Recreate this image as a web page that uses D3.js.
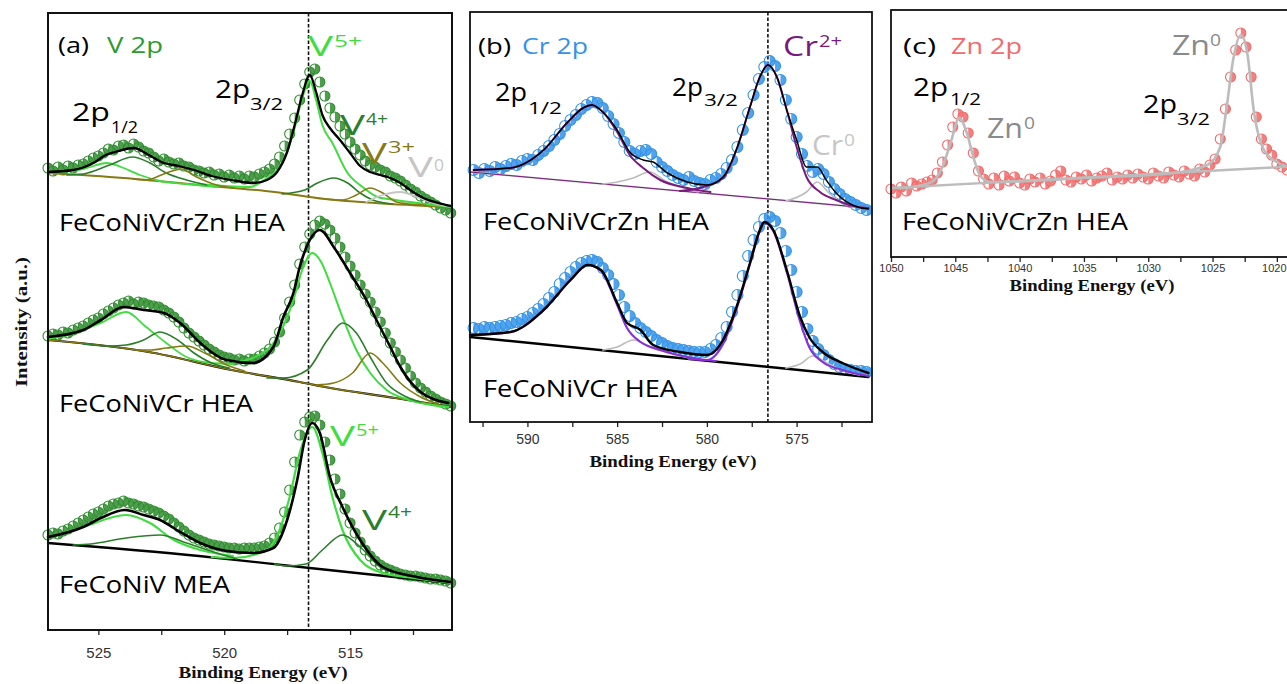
<!DOCTYPE html>
<html>
<head>
<meta charset="utf-8">
<script src="https://cdn.jsdelivr.net/npm/d3@7"></script>
<style>
  body { margin: 0; background: #fff; }
  svg { display: block; }
</style>
</head>
<body>
<svg id="fig" width="1287" height="684"></svg>
<script>
// ---------------- data (intensity in arbitrary units) ----------------

// V 2p, measured points from 527 eV down to 511 eV every 0.2 eV
const vStart = 527, vStep = 0.2;
const vZnHEA = [462,459,463,460,464,462,465,466,469,472, 474,477,481,480,484,485,482,486,483,479,
  477,473,469,471,468,466,467,464,463,460, 459,457,458,455,456,453,455,452,454,451,
  454,453,456,458,461,466,473,484,496,512, 530,546,558,561,548,534,522,513,504,496,
  488,481,475,469,465,463,460,458,454,452, 449,445,441,438,434,431,428,425,422,420, 417];
const vCrHEA = [294,296,295,298,297,300,302,304,307,310, 312,316,319,322,325,327,329,326,328,327,
  325,324,323,320,317,313,308,302,297,293, 289,285,281,278,275,273,272,270,271,269,
  271,271,274,277,281,288,298,312,328,345, 366,383,396,405,409,406,400,392,383,373,
  364,355,345,336,328,318,308,297,287,278, 270,262,254,247,242,238,234,231,228,226, 224];
const vMEA = [95,97,96,99,101,104,107,110,113,116, 118,121,124,126,127,129,127,126,124,123,
  121,119,117,114,111,107,103,99,95,92, 90,88,86,85,84,83,82,82,81,82,
  82,82,83,84,87,92,102,118,140,168, 195,208,213,214,205,188,170,151,136,121,
  107,97,88,80,74,69,65,62,60,58, 56,55,54,54,53,52,51,51,50,49, 47];

// V 2p fits, [binding energy, intensity]
const vZnBg   = [[527,457],[524,452],[521,445],[518,438],[516,431],[514,427],[511,423]];
const vZnFit  = [[527,458],[526,460],[525.2,467],[524.7,475],[524.2,479],[523.6,482],[523,475],[522.4,467],[521.8,464],[521.2,460],[520.5,454],[519.5,449],[518.8,447],[518.3,450],[517.9,458],[517.5,478],[517.2,505],[516.9,535],[516.6,555],[516.35,538],[516.1,515],[515.8,502],[515.4,490],[515,477],[514.6,464],[514.2,458],[513.8,455],[513.4,452],[513,447],[512.5,438],[512,431],[511.5,427],[511,424]];
const vZn5a   = [[521,446],[519,443],[518.3,452],[517.9,460],[517.5,478],[517.2,502],[516.9,532],[516.6,549],[516.35,530],[516.1,505],[515.7,487],[515.1,457],[514.5,443],[513.9,433],[513.2,430],[512,426],[511,423]];
const vZn5b   = [[526.9,457],[525.6,461],[524.65,467],[524.1,463],[523.35,455],[522.55,449],[521.5,446],[520.3,443]];
const vZn4a   = [[517.7,436],[516.8,440],[516.3,447],[515.65,452],[515.1,447],[514.6,437],[514.1,430],[513.3,426]];
const vZn4b   = [[526.25,455],[525.6,456],[524.55,465],[523.65,473],[522.95,467],[522.3,457],[521.5,450],[520.7,445]];
const vZn3a   = [[516,431],[515.3,430],[514.75,435],[514.2,442],[513.7,437],[513.15,428],[512.6,426],[512,425]];
const vZn3b   = [[523.6,451],[523.1,450],[522.3,457],[521.7,461],[521.1,453],[520.3,445],[519.6,442]];
const vZn0    = [[514.35,428],[513.7,435],[513.0,438],[512.35,433],[511.7,427],[511.2,424]];

const vCrBg   = [[527,290],[523,278],[519.7,260],[517,248],[516,243],[513.2,232],[511,223]];
const vCrFit  = [[527,293],[525.6,300],[524.9,310],[524,323],[523.2,320],[522.4,317],[521.75,307],[520.95,287],[519.9,270],[518.85,267],[518.05,283],[517.65,313],[517.25,337],[517,363],[516.6,390],[516.2,400],[515.65,383],[515,357],[514.35,330],[513.95,310],[513.4,283],[513,263],[512.2,238],[511.1,227]];
const vCr5a   = [[519.65,267],[518.3,280],[517.65,304],[517.25,330],[516.9,360],[516.5,377],[516.15,368],[515.8,347],[515.3,313],[514.75,280],[514.2,257],[513.55,240],[512.65,230],[511.1,223]];
const vCr5b   = [[527,291],[526.2,295],[524.9,307],[523.9,318],[523.1,303],[522.3,287],[521.5,273],[520.5,267],[519.65,266]];
const vCr4a   = [[518.3,252],[517.65,252],[516.7,260],[515.9,290],[515.3,307],[514.75,297],[514.2,273],[513.55,247],[512.75,233],[512.2,228]];
const vCr4b   = [[525.6,286],[524.6,284],[523.9,285],[523.2,290],[522.55,298],[521.85,290],[521.2,277],[520.5,267],[519.8,262]];
const vCr3a   = [[516.35,245],[515.65,247],[514.9,257],[514.2,277],[513.7,267],[513,247],[512.2,233],[511.5,226]];
const vCr3b   = [[523.5,280],[522.9,280],[522.3,282],[521.5,284],[520.7,276],[519.9,265],[519.2,259]];

const vMeaBg  = [[527,87],[521,74],[516.6,62],[511,47]];
const vMeaFit = [[527,93],[525.6,103],[524.9,112],[523.95,120],[523.2,115],[522.55,110],[521.75,98],[520.95,87],[519.9,79],[518.85,77],[518.05,82],[517.5,110],[517.1,150],[516.8,190],[516.5,207],[516.2,197],[515.8,153],[515.3,123],[514.6,90],[513.7,63],[512.35,53],[511,48]];
const vMea5a  = [[520.5,73],[519.65,72],[518.3,80],[517.8,100],[517.4,133],[517,177],[516.7,198],[516.5,203],[516.1,177],[515.7,133],[515.3,100],[514.6,70],[513.7,57],[512.5,52],[511,47]];
const vMea5b  = [[527,93],[525.6,103],[523.9,115],[522.95,107],[522,90],[520.95,80],[519.65,74]];
const vMea4a  = [[518,66],[517.5,64],[516.75,66],[516.1,80],[515.3,95],[514.6,83],[513.8,63],[513,56],[512.2,52]];
const vMea4b  = [[526,85],[525.3,86],[523.9,92],[522.55,95],[521.5,87],[520.3,77],[519.5,71]];

// Cr 2p, measured points from 593 eV down to 571.1 eV every 0.3 eV
const crStart = 593, crStep = 0.3;
const crZnHEA = [252,249,253,251,255,253,256,258,257,261, 263,262,267,271,276,282,288,296,302,307,
  313,317,320,319,314,306,298,289,280,271, 268,271,272,268,260,255,251,247,244,242,
  245,241,239,238,242,244,248,254,262,275, 292,309,327,343,355,361,356,342,322,303,
  285,268,256,250,253,248,240,233,228,223, 220,217,214,212];
const crCrHEA = [94,93,95,94,95,96,97,99,100,103, 105,109,113,118,124,130,138,144,150,155,
  159,161,162,160,154,147,138,127,115,106, 99,94,90,86,82,79,76,74,73,72,
  71,70,70,70,73,77,84,95,110,127, 146,166,182,195,203,205,201,189,171,152,
  130,110,93,81,73,67,62,58,55,53, 52,51,51,50];

const crZnBg   = [[593.2,250],[571,214]];
const crZnFit  = [[593,252],[590.95,254],[589.1,272],[587.8,299],[586.9,314],[586.4,317],[585.8,310],[585,292],[584.3,270],[583.55,262],[583,260],[582.2,249],[581.1,240],[580,237],[579.1,245],[578.3,275],[577.6,315],[577.05,345],[576.6,357],[576.1,345],[575.55,312],[575,282],[574.45,255],[573.85,255],[573.35,242],[572.8,229],[571.6,215],[571,213]];
const crZn2a   = [[581.5,231],[580.4,234],[579.1,244],[578.3,275],[577.6,315],[577.05,345],[576.6,357],[576.1,345],[575.55,312],[575,275],[574.45,245],[573.7,230],[572.8,222],[571.6,215],[571,214]];
const crZn2b   = [[593,252],[590.95,254],[589.1,272],[587.8,299],[586.9,314],[586.4,317],[585.8,310],[585,290],[584.3,267],[583.55,254],[582.6,242],[581.1,234],[579.8,230]];
const crZn0a   = [[575.6,221],[574.45,230],[573.85,240],[573.2,229],[572.45,219],[571.6,215]];
const crZn0b   = [[585.8,238],[585,240],[584.1,244],[583.2,250],[582.2,240],[581.3,234],[580.5,230]];

const crCrBg   = [[593.2,85],[571,45]];
const crCrFit  = [[593.2,87],[590.95,90],[589.1,112],[587.6,142],[586.65,157],[585.9,152],[585,119],[584.45,99],[583.7,92],[583,77],[581.5,70],[580,67],[579.1,82],[578.35,115],[577.6,159],[577.05,192],[576.8,200],[576.3,192],[575.55,152],[574.8,105],[574.3,85],[573.55,70],[572.45,59],[571,49]];
const crCr2a   = [[581,63],[580,62],[579.1,78],[578.35,113],[577.6,158],[577.05,191],[576.8,199],[576.3,191],[575.55,150],[574.8,100],[574.3,75],[573.55,60],[572.45,52],[571,46]];
const crCr2b   = [[593.2,87],[590.95,90],[589.1,112],[587.6,142],[586.65,157],[585.9,151],[585,117],[584.45,94],[583.7,80],[582.6,72],[580.8,64],[579.5,61]];
const crCr0a   = [[575.6,54],[574.8,58],[574.1,66],[573.2,58],[572.2,50],[571.5,47]];
const crCr0b   = [[585.8,72],[585,75],[584.1,82],[583,74],[581.9,68],[581,64]];

// Zn 2p, measured points from 1050 eV down to 1018.4 eV every 0.4 eV
const znStart = 1050, znStep = 0.4;
const znZnHEA = [68,64,70,66,74,71,73,75,77,84,95,112,130,143,140,124,104,86,78,73,
  79,72,81,76,80,74,72,78,75,79,73,76,82,86,77,75,80,78,82,76,
  79,81,84,77,80,78,82,79,83,80,78,84,81,79,85,82,80,86,83,81,
  88,85,92,98,118,148,180,207,224,210,180,140,118,108,102,93,90,87,91,88];
const znBg  = [[1050,69],[1018.2,91]];
const znFit = [[1050,69],[1049.3,69],[1047,74],[1046,90],[1045.3,117],[1044.7,139],[1044.1,124],[1043.6,100],[1043.1,82],[1042.3,75],[1035,79],[1028,84],[1025.4,92],[1024.4,110],[1023.9,150],[1023.4,197],[1022.8,222],[1022.3,204],[1021.8,147],[1021,107],[1020,95],[1019.2,91],[1018.2,91]];

// tick values
const vTicks = [525, 520, 515], vMinor = [522.5, 517.5, 512.5];
const crTicks = [590, 585, 580, 575], crMinor = [592.5, 587.5, 582.5, 577.5, 572.5];
const znTicks = [1050, 1045, 1040, 1035, 1030, 1025, 1020], znMinor = [1047.5, 1042.5, 1037.5, 1032.5, 1027.5, 1022.5];

// ---------------- drawing ----------------
const svg = d3.select("#fig");
const SANS = "'Open Sans', 'DejaVu Sans', sans-serif";
const SERIF = "'Liberation Serif', 'Times New Roman', serif";

const C = {
  vDots: "#2f8d2f", bright: "#3fdd3f", dark: "#2b7f2b", olive: "#877a14", lgray: "#c6c6c6",
  blue: "#3393e8", purple: "#7a1a7e", violet: "#8a30d8", salmon: "#f26a6a", zgray: "#bcbcbc"
};

function energies(start, step, n) {
  return d3.range(n).map(i => start - i * step);
}

function makePanel(box, xDomain, yMax, ticks, minor, tickFont, pad) {
  const x = d3.scaleLinear().domain(xDomain).range([box.x0, box.x1]);
  const y = d3.scaleLinear().domain([0, yMax]).range([box.y1, box.y0]);
  const g = svg.append("g");
  const ax = g.append("g").attr("transform", `translate(0,${box.y1})`)
    .call(d3.axisBottom(x).tickValues(ticks).tickSize(5).tickSizeOuter(0).tickPadding(pad).tickFormat(d3.format("d")));
  ax.select(".domain").remove();
  ax.selectAll("line").attr("stroke", "#222").attr("stroke-width", 1.3);
  ax.selectAll("text").attr("font-family", "'Liberation Sans', Arial, sans-serif")
    .attr("font-size", tickFont).attr("fill", "#333");
  const mx = g.append("g").attr("transform", `translate(0,${box.y1})`)
    .call(d3.axisBottom(x).tickValues(minor).tickSize(5).tickSizeOuter(0).tickFormat(""));
  mx.select(".domain").remove();
  mx.selectAll("line").attr("stroke", "#222").attr("stroke-width", 1.3);
  return { x, y, g, box, ax };
}

function frame(p, w) {
  p.g.append("rect").attr("x", p.box.x0).attr("y", p.box.y0)
    .attr("width", p.box.x1 - p.box.x0).attr("height", p.box.y1 - p.box.y0)
    .attr("fill", "none").attr("stroke", "#111").attr("stroke-width", w);
}

function dots(p, counts, start, step, stroke, fill, r) {
  const e = energies(start, step, counts.length);
  const pts = counts.map((v, i) => [p.x(e[i]), p.y(v)]);
  const gg = p.g.append("g");
  gg.selectAll("path.half").data(pts).join("path")
    .attr("d", d => `M${d[0]},${d[1] - r}A${r},${r} 0 0 1 ${d[0]},${d[1] + r}Z`)
    .attr("fill", fill).attr("opacity", 0.85);
  gg.selectAll("circle").data(pts).join("circle")
    .attr("cx", d => d[0]).attr("cy", d => d[1]).attr("r", r)
    .attr("fill", "none").attr("stroke", stroke).attr("stroke-width", 1.1);
}

function curve(p, data, color, width) {
  const line = d3.line().x(d => p.x(d[0])).y(d => p.y(d[1])).curve(d3.curveMonotoneX);
  p.g.append("path").datum(data).attr("d", line)
    .attr("fill", "none").attr("stroke", color).attr("stroke-width", width)
    .attr("stroke-linejoin", "round").attr("stroke-linecap", "round");
}

function dashed(p, ev) {
  p.g.append("line").attr("x1", p.x(ev)).attr("x2", p.x(ev))
    .attr("y1", p.box.y0).attr("y2", p.box.y1)
    .attr("stroke", "#111").attr("stroke-width", 1.6).attr("stroke-dasharray", "3.5,2");
}

function label(x, y, str, size, color, w) {
  const t = svg.append("text").attr("x", x).attr("y", y).text(str)
    .attr("font-family", SANS).attr("font-size", size).attr("fill", color || "#000");
  if (w) t.attr("textLength", w).attr("lengthAdjust", "spacingAndGlyphs");
  return t;
}

function title(cx, y, str, w) {
  svg.append("text").attr("x", cx).attr("y", y).text(str)
    .attr("text-anchor", "middle").attr("font-family", SERIF).attr("font-weight", "bold")
    .attr("font-size", 16).attr("fill", "#111")
    .attr("textLength", w).attr("lengthAdjust", "spacingAndGlyphs");
}

// ---- panel (a): V 2p ----
const pa = makePanel({ x0: 48, x1: 452, y0: 13, y1: 630 }, [527, 510.95], 617, vTicks, vMinor, 15, 12);
dashed(pa, 516.65);

dots(pa, vZnHEA, vStart, vStep, C.vDots, C.vDots, 5);
curve(pa, vZnBg, C.olive, 2);
curve(pa, vZn5b, C.bright, 1.8); curve(pa, vZn5a, C.bright, 2);
curve(pa, vZn4b, C.dark, 1.6); curve(pa, vZn4a, C.dark, 1.6);
curve(pa, vZn3b, C.olive, 1.6); curve(pa, vZn3a, C.olive, 1.6);
curve(pa, vZn0, C.lgray, 1.8);
curve(pa, vZnFit, "#000", 2.3);

dots(pa, vCrHEA, vStart, vStep, C.vDots, C.vDots, 5);
curve(pa, vCrBg, "#111", 2.2); curve(pa, vCrBg, C.olive, 1.4);
curve(pa, vCr5b, C.bright, 1.8); curve(pa, vCr5a, C.bright, 2);
curve(pa, vCr4b, C.dark, 1.6); curve(pa, vCr4a, C.dark, 1.6);
curve(pa, vCr3b, C.olive, 1.6); curve(pa, vCr3a, C.olive, 1.6);
curve(pa, vCrFit, "#000", 2.6);

dots(pa, vMEA, vStart, vStep, C.vDots, C.vDots, 5);
curve(pa, vMeaBg, "#000", 2.4);
curve(pa, vMea5b, C.bright, 2); curve(pa, vMea5a, C.bright, 2.2);
curve(pa, vMea4b, C.dark, 1.6); curve(pa, vMea4a, C.dark, 1.6);
curve(pa, vMeaFit, "#000", 2.6);
frame(pa, 2);

// ---- panel (b): Cr 2p ----
const pb = makePanel({ x0: 470, x1: 872, y0: 12, y1: 422 }, [593.2, 570.8], 410, crTicks, crMinor, 14, 7);
dashed(pb, 576.6);

dots(pb, crZnHEA, crStart, crStep, C.blue, C.blue, 5.5);
curve(pb, crZnBg, C.zgray, 1.8); curve(pb, crZnBg, C.purple, 1);
curve(pb, crZn0b, C.zgray, 1.6); curve(pb, crZn0a, C.zgray, 1.6);
curve(pb, crZn2b, C.purple, 2); curve(pb, crZn2a, C.purple, 2);
curve(pb, crZnFit, "#000", 1.5);

dots(pb, crCrHEA, crStart, crStep, C.blue, C.blue, 5.5);
curve(pb, crCrBg, "#000", 2.4);
curve(pb, crCr0b, C.zgray, 1.6); curve(pb, crCr0a, C.zgray, 1.6);
curve(pb, crCr2b, C.violet, 2.2); curve(pb, crCr2a, C.violet, 2.2);
curve(pb, crCrFit, "#000", 2.4);
frame(pb, 1.8);

// ---- panel (c): Zn 2p ----
const pc = makePanel({ x0: 891, x1: 1300, y0: 10, y1: 257 }, [1050, 1018.2], 247, znTicks, znMinor, 11, 2);
pc.ax.selectAll("text").filter(d => d === 1020).attr("dx", -3);
dots(pc, znZnHEA, znStart, znStep, C.salmon, C.salmon, 5);
curve(pc, znBg, C.zgray, 2.4);
curve(pc, znFit, C.zgray, 2.6);
frame(pc, 1.8);

// ---- texts ----
// panel (a)
label(58, 53, "(a)", 22, "#000", 31);
label(107, 53, "V 2p", 22, "#2e9a2e", 56);
label(72, 121, "2p", 26, "#000", 38); label(111, 133, "1/2", 16, "#000", 27);
label(215, 98, "2p", 26, "#000", 35); label(250, 110, "3/2", 16, "#000", 33);
label(308, 56, "V", 28, C.bright, 25); label(334, 47, "5+", 17, C.bright, 28);
label(340, 135, "V", 28, C.dark, 25); label(366, 125, "4+", 17, C.dark, 22);
label(362, 163, "V", 28, C.olive, 25); label(388, 153, "3+", 17, C.olive, 27);
label(408, 177, "V", 28, C.lgray, 25); label(434, 171, "0", 17, C.lgray, 10);
label(59, 231, "FeCoNiVCrZn HEA", 23, "#000", 226);
label(59, 412, "FeCoNiVCr HEA", 23, "#000", 194);
label(330, 446, "V", 28, C.bright, 25); label(356, 436, "5+", 17, C.bright, 23);
label(362, 530, "V", 28, C.dark, 25); label(388, 518, "4+", 17, C.dark, 24);
label(59, 593, "FeCoNiV MEA", 23, "#000", 171);

// panel (b)
label(478, 54, "(b)", 22, "#000", 33);
label(522, 54, "Cr 2p", 22, C.blue, 66);
label(495, 101, "2p", 26, "#000", 32); label(528, 114, "1/2", 16, "#000", 34);
label(672, 96, "2p", 26, "#000", 31); label(704, 106, "3/2", 16, "#000", 34);
label(783, 56, "Cr", 28, C.purple, 35); label(819, 47, "2+", 17, C.purple, 23);
label(812, 155, "Cr", 28, C.lgray, 31); label(844, 146, "0", 17, C.lgray, 11);
label(483, 230, "FeCoNiVCrZn HEA", 23, "#000", 226);
label(483, 397, "FeCoNiVCr HEA", 23, "#000", 194);

// panel (c)
label(903, 54, "(c)", 22, "#000", 33);
label(951, 54, "Zn 2p", 22, C.salmon, 71);
label(913, 96, "2p", 26, "#000", 35); label(950, 105, "1/2", 16, "#000", 31);
label(987, 138, "Zn", 28, "#8a8a8a", 36); label(1024, 129, "0", 17, "#8a8a8a", 11);
label(1172, 55, "Zn", 28, "#8a8a8a", 38); label(1210, 46, "0", 17, "#8a8a8a", 11);
label(1143, 113, "2p", 26, "#000", 34); label(1177, 125, "3/2", 16, "#000", 33);
label(902, 230, "FeCoNiVCrZn HEA", 23, "#000", 226);

// axis titles
title(263, 678, "Binding Energy (eV)", 169);
title(673, 467, "Binding Energy (eV)", 167);
title(1092, 291, "Binding Energy (eV)", 165);
svg.append("text").attr("transform", "translate(27,322) rotate(-90)")
  .attr("text-anchor", "middle").text("Intensity (a.u.)")
  .attr("font-family", SERIF).attr("font-weight", "bold").attr("font-size", 16).attr("fill", "#111")
  .attr("textLength", 130).attr("lengthAdjust", "spacingAndGlyphs");
</script>
</body>
</html>
